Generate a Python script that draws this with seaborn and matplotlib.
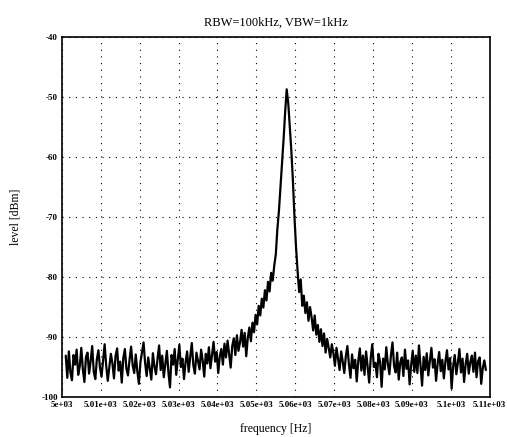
import numpy as np
import pandas as pd
import matplotlib
matplotlib.use('Agg')
import matplotlib.pyplot as plt
import seaborn as sns

# Sweep limits (Hz) and axis ticks
freq_start = 5001.0
freq_stop = 5109.0
x_ticks = [5000, 5010, 5020, 5030, 5040, 5050, 5060, 5070, 5080, 5090, 5100, 5110]
y_ticks = [-100, -90, -80, -70, -60, -50, -40]

level_left_floor = [
    -93.1, -96.8, -92.4, -95.9, -97.2, -93.0, -94.6, -92.1, -96.3, -94.9,
    -91.8, -95.4, -97.5, -93.3, -92.6, -96.1, -94.0, -91.5, -95.8, -97.0,
    -93.7, -92.2, -95.1, -96.6, -93.9, -91.2, -94.8, -97.3, -95.0, -92.8,
    -94.4, -96.9, -93.2, -91.9, -95.6, -94.1, -97.6, -93.5, -92.0, -95.3,
    -96.4, -93.8, -91.6, -94.7, -96.0, -92.9, -95.7, -97.8, -94.2, -92.5,
    -90.9, -94.3, -96.5, -93.4, -95.2, -97.1, -92.7, -94.9, -96.2, -93.6,
    -91.4, -95.5, -93.1, -96.7, -94.5, -92.3, -95.9, -98.4, -93.0, -94.6,
    -92.0, -96.3, -93.8, -91.3, -95.0, -93.6, -97.0, -94.2, -92.4, -95.8,
    -93.3, -91.0, -94.7, -96.1, -92.6, -94.0, -95.4, -92.1, -93.9, -96.6,
    -92.8, -94.4, -91.7, -95.2, -93.0, -90.8, -94.1, -92.5, -96.0, -93.2,
]
level_rise = [
    -92.0, -94.6, -91.1, -93.4, -90.6, -92.8, -95.1, -91.5, -90.2, -93.0,
    -89.7, -92.3, -90.9, -88.8, -91.6, -89.3, -93.2, -90.1, -88.4, -90.7,
    -87.6, -89.2, -86.3, -87.9, -84.8, -86.4, -83.6, -85.1, -82.2, -83.9,
    -80.8, -82.4, -79.3, -80.6, -78.1, -76.2,
]
level_peak = [
    -72.0, -69.0, -65.0, -61.0, -57.0, -52.5, -48.7,
    -51.0, -55.0, -59.0, -64.0, -70.0, -75.0, -79.0,
]
level_fall = [
    -82.5, -80.4, -84.8, -83.1, -86.0, -84.2, -87.3, -85.0, -86.7, -88.9,
    -86.4, -89.6, -88.0, -90.8, -88.7, -91.5, -89.4, -92.6, -90.3, -91.9,
    -93.4, -91.2, -92.7, -94.8, -91.8, -93.6, -95.5, -92.4, -94.1, -96.0,
]
level_right_floor = [
    -93.2, -91.5, -94.6, -96.8, -92.9, -95.2, -93.8, -97.4, -94.0, -91.9,
    -95.6, -93.1, -96.3, -92.4, -94.9, -97.6, -93.5, -91.2, -95.0, -94.3,
    -96.7, -92.8, -94.1, -98.3, -93.6, -95.4, -91.7, -94.5, -96.2, -93.0,
    -90.9, -94.8, -95.9, -92.6, -97.1, -94.2, -93.4, -96.5, -92.1, -95.3,
    -93.9, -97.9, -94.6, -92.3, -95.8, -93.1, -96.0, -91.4, -94.7, -98.1,
    -93.3, -95.5, -92.7, -96.4, -94.0, -91.8, -95.1, -93.7, -97.3, -94.4,
    -92.5, -95.7, -93.8, -96.9, -94.1, -92.2, -95.4, -93.5, -98.6, -94.8,
    -93.0, -96.2, -94.3, -92.0, -95.9, -93.6, -97.5, -94.5, -92.8, -96.1,
    -94.2, -93.1, -95.8, -92.6, -96.7, -94.0, -93.4, -97.8, -95.2, -93.9,
    -95.5,
]

level = level_left_floor + level_rise + level_peak + level_fall + level_right_floor
freq = np.linspace(freq_start, freq_stop, len(level))
data = pd.DataFrame({'freq': freq, 'level': level})

sns.set_style("white")
plt.rcParams['font.family'] = ['Liberation Serif', 'DejaVu Serif']
plt.rcParams['text.color'] = 'black'
plt.rcParams['axes.labelcolor'] = 'black'
plt.rcParams['xtick.color'] = 'black'
plt.rcParams['ytick.color'] = 'black'

fig = plt.figure(figsize=(5.07, 4.37), dpi=100)
ax = fig.add_axes([0.122, 0.0915, 0.844, 0.8235])

sns.lineplot(x='freq', y='level', data=data, ax=ax, color='black', linewidth=1.6)

ax.set_xlim(5000, 5110)
ax.set_ylim(-100, -40)
ax.set_xticks(x_ticks)
ax.set_xticklabels(['{:.3g}'.format(t) for t in x_ticks])
ax.set_yticks(y_ticks)
ax.set_yticklabels([str(t) for t in y_ticks])
ax.tick_params(axis='both', length=0, labelsize=6.5, pad=3)
for lab in ax.get_xticklabels() + ax.get_yticklabels():
    lab.set_fontweight('bold')

ax.grid(True, color='black', linestyle=(0, (1, 5)), linewidth=0.8)
for s in ax.spines.values():
    s.set_color('black')
    s.set_linewidth(1.2)

ax.set_title('RBW=100kHz, VBW=1kHz', fontsize=9, pad=8)
ax.set_xlabel('frequency [Hz]', fontsize=8.5, labelpad=10)
ax.set_ylabel('level [dBm]', fontsize=8.5, labelpad=14)

fig.savefig('out.png', dpi=100)
